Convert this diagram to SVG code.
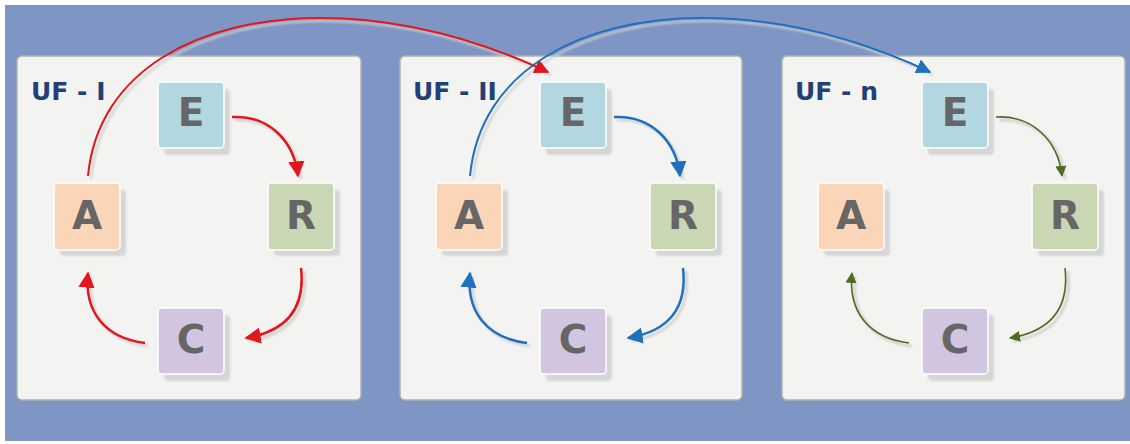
<svg xmlns="http://www.w3.org/2000/svg" width="1130" height="444" viewBox="0 0 1130 444">
<style>
.panel{fill:#f3f3f1;stroke:#b3b2ad;stroke-width:1.5}
.title{font-family:"DejaVu Sans",Verdana,sans-serif;font-weight:bold;font-size:25px;fill:#233f77}
.sh{fill:#d6d6d6;filter:url(#blur)}
.box{stroke:#ffffff;stroke-width:1.5}
.E{fill:#b3d7e1}.A{fill:#fbd5b8}.R{fill:#c9d7b4}.C{fill:#d2c5df}
.lt{font-family:"DejaVu Sans",Verdana,sans-serif;font-weight:bold;font-size:39px;fill:#666666;text-anchor:middle}
.ash{fill:none;stroke:#cfcfcf;stroke-width:2.5;filter:url(#blur)}
.red{fill:none;stroke:#e2161c;stroke-width:2.5}
.blue{fill:none;stroke:#2070bd;stroke-width:2.5}
.green{fill:none;stroke:#4f6b22;stroke-width:1.6}
</style>
<defs>
<filter id="blur" x="-20%" y="-20%" width="140%" height="140%"><feGaussianBlur stdDeviation="1.2"/></filter>
<marker id="mr" viewBox="0 0 10 10" refX="9" refY="5" markerWidth="6.5" markerHeight="6.5" markerUnits="strokeWidth" orient="auto"><path d="M0,0 L10,5 L0,10 z" fill="#e2161c"/></marker>
<marker id="mb" viewBox="0 0 10 10" refX="9" refY="5" markerWidth="6.5" markerHeight="6.5" markerUnits="strokeWidth" orient="auto"><path d="M0,0 L10,5 L0,10 z" fill="#2070bd"/></marker>
<marker id="mg" viewBox="0 0 10 10" refX="9" refY="5" markerWidth="7" markerHeight="7" markerUnits="strokeWidth" orient="auto"><path d="M0,0 L10,5 L0,10 z" fill="#4f6b22"/></marker>
<marker id="mr2" viewBox="0 0 10 10" refX="9" refY="5" markerWidth="7.5" markerHeight="7.5" markerUnits="strokeWidth" orient="auto"><path d="M0,0 L10,5 L0,10 z" fill="#e2161c"/></marker>
<marker id="mb2" viewBox="0 0 10 10" refX="9" refY="5" markerWidth="7.5" markerHeight="7.5" markerUnits="strokeWidth" orient="auto"><path d="M0,0 L10,5 L0,10 z" fill="#2070bd"/></marker>
</defs>
<rect x="0" y="0" width="1130" height="444" fill="#ffffff"/>
<rect x="5" y="5" width="1125" height="436" fill="#7f96c4"/>

<g id="panel-1">
<rect class="panel" x="17" y="56" width="344" height="344" rx="5"/>
<text class="title" x="31" y="100">UF - I</text>
</g>
<g id="panel-2">
<rect class="panel" x="400" y="56" width="342" height="344" rx="5"/>
<text class="title" x="413" y="100">UF - II</text>
</g>
<g id="panel-3">
<rect class="panel" x="782" y="56" width="343" height="344" rx="5"/>
<text class="title" x="795" y="100">UF - n</text>
</g>

<g id="nodes-1">
<g id="E1"><rect class="sh" x="164" y="89" width="66" height="66" rx="4"/><rect class="box E" x="158" y="82" width="66" height="66" rx="4"/><text class="lt" x="191" y="126">E</text></g>
<g id="R1"><rect class="sh" x="274" y="190" width="66" height="66" rx="4"/><rect class="box R" x="268" y="183" width="66" height="67" rx="4"/><text class="lt" x="301" y="229">R</text></g>
<g id="C1"><rect class="sh" x="164" y="315" width="66" height="66" rx="4"/><rect class="box C" x="158" y="308" width="66" height="66" rx="4"/><text class="lt" x="191" y="353">C</text></g>
<g id="A1"><rect class="sh" x="60" y="190" width="66" height="66" rx="4"/><rect class="box A" x="54" y="183" width="66" height="67" rx="4"/><text class="lt" x="87" y="229">A</text></g>
</g>
<g id="nodes-2" transform="translate(382,0)">
<g id="E2"><rect class="sh" x="164" y="89" width="66" height="66" rx="4"/><rect class="box E" x="158" y="82" width="66" height="66" rx="4"/><text class="lt" x="191" y="126">E</text></g>
<g id="R2"><rect class="sh" x="274" y="190" width="66" height="66" rx="4"/><rect class="box R" x="268" y="183" width="66" height="67" rx="4"/><text class="lt" x="301" y="229">R</text></g>
<g id="C2"><rect class="sh" x="164" y="315" width="66" height="66" rx="4"/><rect class="box C" x="158" y="308" width="66" height="66" rx="4"/><text class="lt" x="191" y="353">C</text></g>
<g id="A2"><rect class="sh" x="60" y="190" width="66" height="66" rx="4"/><rect class="box A" x="54" y="183" width="66" height="67" rx="4"/><text class="lt" x="87" y="229">A</text></g>
</g>
<g id="nodes-3" transform="translate(764,0)">
<g id="E3"><rect class="sh" x="164" y="89" width="66" height="66" rx="4"/><rect class="box E" x="158" y="82" width="66" height="66" rx="4"/><text class="lt" x="191" y="126">E</text></g>
<g id="R3"><rect class="sh" x="274" y="190" width="66" height="66" rx="4"/><rect class="box R" x="268" y="183" width="66" height="67" rx="4"/><text class="lt" x="301" y="229">R</text></g>
<g id="C3"><rect class="sh" x="164" y="315" width="66" height="66" rx="4"/><rect class="box C" x="158" y="308" width="66" height="66" rx="4"/><text class="lt" x="191" y="353">C</text></g>
<g id="A3"><rect class="sh" x="60" y="190" width="66" height="66" rx="4"/><rect class="box A" x="54" y="183" width="66" height="67" rx="4"/><text class="lt" x="87" y="229">A</text></g>
</g>

<g id="connectors">
<g transform="translate(3,3)">
<path class="ash" d="M232,117 C268,115 294,140 298,176"/>
<path class="ash" d="M301,268 C306,312 282,332 246,338"/>
<path class="ash" d="M145,343 C105,338 84,312 88,273"/>
<path class="ash" d="M614,117 C650,115 676,140 680,176"/>
<path class="ash" d="M683,268 C688,312 664,332 628,338"/>
<path class="ash" d="M527,343 C487,338 466,312 470,273"/>
<path class="ash" d="M996,117 C1032,115 1058,140 1062,176"/>
<path class="ash" d="M1065,268 C1070,312 1046,332 1010,338"/>
<path class="ash" d="M909,343 C869,338 848,312 852,273"/>
<path class="ash" d="M88,176 C98,70 200,18 320,18 C410,18 490,45 548,72" style="stroke-width:2"/>
<path class="ash" d="M470,176 C480,70 582,18 702,18 C792,18 872,45 930,72" style="stroke-width:2"/>
</g>
<path class="red" d="M232,117 C268,115 294,140 298,176" marker-end="url(#mr)"/>
<path class="red" d="M301,268 C306,312 282,332 246,338" marker-end="url(#mr)"/>
<path class="red" d="M145,343 C105,338 84,312 88,273" marker-end="url(#mr)"/>
<path class="blue" d="M614,117 C650,115 676,140 680,176" marker-end="url(#mb)"/>
<path class="blue" d="M683,268 C688,312 664,332 628,338" marker-end="url(#mb)"/>
<path class="blue" d="M527,343 C487,338 466,312 470,273" marker-end="url(#mb)"/>
<path class="green" d="M996,117 C1032,115 1058,140 1062,176" marker-end="url(#mg)"/>
<path class="green" d="M1065,268 C1070,312 1046,332 1010,338" marker-end="url(#mg)"/>
<path class="green" d="M909,343 C869,338 848,312 852,273" marker-end="url(#mg)"/>
<path class="red" style="stroke-width:2" d="M88,176 C98,70 200,18 320,18 C410,18 490,45 548,72" marker-end="url(#mr2)"/>
<path class="blue" style="stroke-width:2" d="M470,176 C480,70 582,18 702,18 C792,18 872,45 930,72" marker-end="url(#mb2)"/>
</g>
</svg>
